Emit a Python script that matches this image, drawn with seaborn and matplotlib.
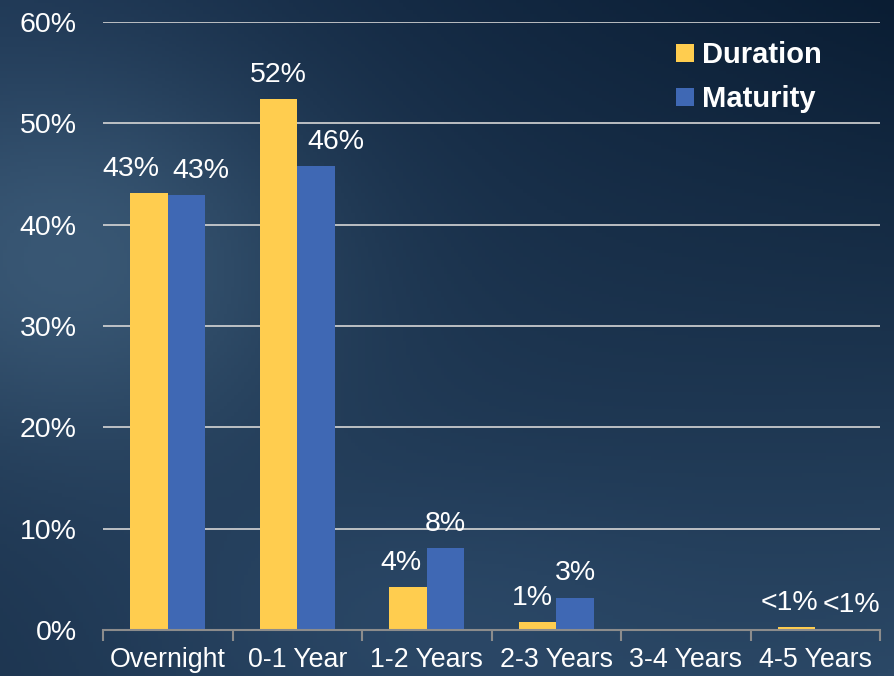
import numpy as np
import pandas as pd
import matplotlib
matplotlib.use("Agg")
import matplotlib.pyplot as plt
import seaborn as sns
from matplotlib.ticker import FuncFormatter, FixedLocator

categories = ["Overnight", "0-1 Year", "1-2 Years", "2-3 Years", "3-4 Years", "4-5 Years"]
duration = [43.1, 52.4, 4.2, 0.8, 0.0, 0.25]
maturity = [42.9, 45.8, 8.1, 3.2, 0.0, 0.05]
duration_labels = ["43%", "52%", "4%", "1%", "", "<1%"]
maturity_labels = ["43%", "46%", "8%", "3%", "", "<1%"]
series_names = ["Duration", "Maturity"]
yticks = [0, 10, 20, 30, 40, 50, 60]

# horizontal nudges (pixels) of the data labels, as in the reference layout
dur_label_dx = [-18, 0, -7, -5, 0, -7]
mat_label_dx = [14, 20, 0, 0, 0, 17]

YELLOW = "#FFCD4F"
BLUE = "#3F68B4"

df = pd.DataFrame({
    "Bucket": categories * 2,
    "Value": duration + maturity,
    "Series": [series_names[0]] * len(categories) + [series_names[1]] * len(categories),
})

sns.set_theme(style="white")
plt.rcParams["font.family"] = ["Liberation Sans", "DejaVu Sans"]

W, H = 895, 676
fig = plt.figure(figsize=(W / 100, H / 100), dpi=100)

# background gradient
bg = fig.add_axes([0, 0, 1, 1], zorder=-10)
yy, xx = np.mgrid[0:1:200j, 0:1:260j]
def c(h):
    h = h.lstrip("#")
    return np.array([int(h[i:i + 2], 16) for i in (0, 2, 4)]) / 255.0
TL, TR, BL, BR = c("#1c3451"), c("#0a1d33"), c("#1d3550"), c("#2b4866")
img = (TL[None, None, :] * ((1 - xx) * (1 - yy))[..., None]
       + TR[None, None, :] * (xx * (1 - yy))[..., None]
       + BL[None, None, :] * ((1 - xx) * yy)[..., None]
       + BR[None, None, :] * (xx * yy)[..., None])
blob = np.exp(-(((xx - 0.08) / 0.28) ** 2 + ((yy - 0.38) / 0.3) ** 2))
img = img + blob[..., None] * (c("#40607e") - c("#1c3451"))[None, None, :] * 0.8
blob2 = np.exp(-(((xx - 0.45) / 0.3) ** 2 + ((yy - 0.9) / 0.2) ** 2))
img = img + blob2[..., None] * np.array([0.03, 0.04, 0.05])[None, None, :]
img = np.clip(img, 0, 1)
bg.imshow(img, aspect="auto", extent=[0, 1, 0, 1], origin="upper")
bg.set_axis_off()

ax = fig.add_axes([103 / W, 46 / H, 777 / W, 608 / H])
ax.patch.set_alpha(0)

sns.barplot(data=df, x="Bucket", y="Value", hue="Series", palette=[YELLOW, BLUE],
            width=0.58, saturation=1, ax=ax, zorder=3, edgecolor="none")

for cont, labs, dxs in zip(ax.containers, [duration_labels, maturity_labels],
                           [dur_label_dx, mat_label_dx]):
    for bar, lab, dx in zip(cont, labs, dxs):
        if not lab:
            continue
        ax.annotate(lab, xy=(bar.get_x() + bar.get_width() / 2, bar.get_height()),
                    xytext=(dx * 0.72, 8), textcoords="offset points",
                    ha="center", va="bottom", color="white", fontsize=20.5)

ax.set_xlim(-0.5, 5.5)
ax.set_ylim(0, 60)
ax.set_yticks(yticks)
ax.yaxis.set_major_formatter(FuncFormatter(lambda v, p: f"{v:.0f}%"))
ax.grid(axis="y", color="#d6d6d6", linewidth=1.2, zorder=0)
ax.grid(axis="x", visible=False)
ax.set_axisbelow(True)
for s in ["top", "right", "left"]:
    ax.spines[s].set_visible(False)
ax.spines["bottom"].set_color("#8c8c8c")
ax.spines["bottom"].set_linewidth(1.5)
ax.spines["bottom"].set_zorder(4)
ax.xaxis.set_minor_locator(FixedLocator([i - 0.5 for i in range(len(categories) + 1)]))
ax.tick_params(axis="x", which="major", length=0, pad=12, labelsize=19.3, labelcolor="white")
ax.tick_params(axis="x", which="minor", length=8, width=1.5, color="#8c8c8c", direction="out", bottom=True)
ax.tick_params(axis="y", length=0, pad=19, labelsize=20.5, labelcolor="white")
ax.set_xlabel("")
ax.set_ylabel("")

handles, labels = ax.get_legend_handles_labels()
ax.legend(handles, labels, loc="upper left", bbox_to_anchor=(650 / W, 1 - 15 / H),
          bbox_transform=fig.transFigure, frameon=False, labelcolor="white",
          prop={"weight": "bold", "size": 21, "family": "Liberation Sans"},
          handlelength=0.6, handleheight=0.6, handletextpad=0.3, labelspacing=0.55)

fig.savefig("out.png", dpi=100)
